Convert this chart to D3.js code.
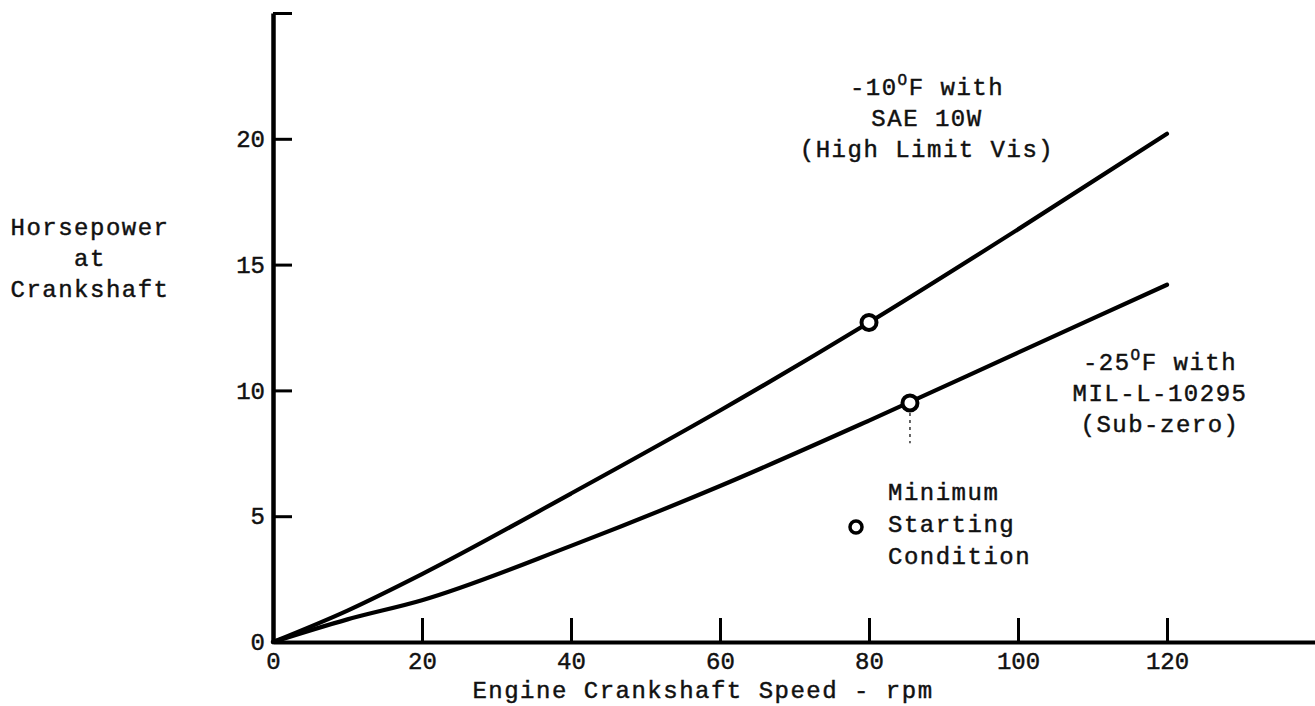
<!DOCTYPE html>
<html>
<head>
<meta charset="utf-8">
<script src="https://cdn.jsdelivr.net/npm/d3@7"></script>
<style>
  html, body { margin: 0; padding: 0; background: #fff; }
  svg { display: block; }
  text { font-family: "Liberation Mono", "DejaVu Sans Mono", monospace; fill: #111; stroke: #111; stroke-width: 0.45px; }
</style>
</head>
<body>
<svg id="chart" width="1315" height="706"></svg>
<script>
// ---- data ----
const rpm      = [0, 10, 20, 40, 60, 80, 100, 120];
const hpHigh   = [0, 1.25, 2.7, 5.9, 9.2, 12.7, 16.4, 20.2];   // -10°F with SAE 10W
const hpSub    = [0, 0.9, 1.66, 3.82, 6.2, 8.8, 11.5, 14.2];   // -25°F with MIL-L-10295
const startRpm = [80, 85.5];     // minimum starting condition points
const startHp  = [12.7, 9.5];
const dropRpm  = [85.5, 85.5];   // small dotted drop under lower point
const dropHp   = [9.1, 7.9];
const xTicks   = [0, 20, 40, 60, 80, 100, 120, 140];
const xLabels  = ["0", "20", "40", "60", "80", "100", "120", ""];
const yTicks   = [0, 5, 10, 15, 20, 25];
const yLabels  = ["0", "5", "10", "15", "20", ""];

const svg = d3.select("#chart");
const x = d3.scaleLinear().domain([0, 140]).range([273, 1316]);
const y = d3.scaleLinear().domain([0, 25]).range([642, 13]);

const FS = 24, LS = 1.5;

// x axis
const xAxis = d3.axisBottom(x).tickValues(xTicks)
  .tickFormat((d, i) => xLabels[i]).tickSize(-24).tickSizeOuter(0).tickPadding(10);
const gx = svg.append("g").attr("transform", `translate(0,${y(0)})`).call(xAxis);
gx.select(".domain").attr("stroke", "#000").attr("stroke-width", 4);
gx.selectAll(".tick line").attr("stroke", "#000").attr("stroke-width", 3);
gx.selectAll(".tick text").attr("font-size", FS).attr("font-family", "Liberation Mono").attr("fill", "#111");

// y axis
const yAxis = d3.axisLeft(y).tickValues(yTicks)
  .tickFormat((d, i) => yLabels[i]).tickSize(-19).tickSizeOuter(0).tickPadding(8);
const gy = svg.append("g").attr("transform", `translate(${x(0)},0)`).call(yAxis);
gy.select(".domain").attr("stroke", "#000").attr("stroke-width", 4.5);
gy.selectAll(".tick line").attr("stroke", "#000").attr("stroke-width", 3);
gy.selectAll(".tick text").attr("font-size", FS).attr("font-family", "Liberation Mono").attr("fill", "#111");

// curves
const line = d3.line().x(d => x(d[0])).y(d => y(d[1])).curve(d3.curveMonotoneX);
[hpHigh, hpSub].forEach(series => {
  svg.append("path")
    .datum(rpm.map((r, i) => [r, series[i]]))
    .attr("d", line)
    .attr("fill", "none").attr("stroke", "#000").attr("stroke-width", 4.2)
    .attr("stroke-linecap", "round");
});

// drop line
svg.append("path")
  .datum(dropRpm.map((r, i) => [r, dropHp[i]]))
  .attr("d", d3.line().x(d => x(d[0])).y(d => y(d[1])))
  .attr("stroke", "#333").attr("stroke-width", 1.5).attr("stroke-dasharray", "3,4").attr("fill", "none");

// start markers
svg.selectAll("circle.pt").data(startRpm.map((r, i) => [r, startHp[i]]))
  .enter().append("circle").attr("class", "pt")
  .attr("cx", d => x(d[0])).attr("cy", d => y(d[1])).attr("r", 7.5)
  .attr("fill", "#fff").attr("stroke", "#000").attr("stroke-width", 4);

// text helper
function textBlock(lines, cx, y0, dy, anchor) {
  lines.forEach((ln, i) => {
    const t = svg.append("text").attr("x", cx).attr("y", y0 + i * dy)
      .attr("text-anchor", anchor).attr("font-size", FS).attr("letter-spacing", LS);
    if (Array.isArray(ln)) {
      ln.forEach(part => {
        const s = t.append("tspan").text(part.t);
        if (part.sup) s.attr("font-size", 16).attr("dy", -10);
        if (part.after) s.attr("dy", 10);
      });
    } else t.text(ln);
  });
}

// y title
textBlock(["Horsepower", "at", "Crankshaft"], 90, 235, 31, "middle");
// x title
svg.append("text").attr("x", 703).attr("y", 698).attr("text-anchor", "middle")
  .attr("font-size", FS).attr("letter-spacing", LS).text("Engine Crankshaft Speed - rpm");

// annotations
textBlock([[{t: "-10"}, {t: "O", sup: true}, {t: "F with", after: true}], "SAE 10W", "(High Limit Vis)"],
  927, 95, 31, "middle");
textBlock([[{t: "-25"}, {t: "O", sup: true}, {t: "F with", after: true}], "MIL-L-10295", "(Sub-zero)"],
  1160, 370, 31, "middle");

// legend
svg.append("circle").attr("cx", 856).attr("cy", 527).attr("r", 6).attr("fill", "#fff")
  .attr("stroke", "#000").attr("stroke-width", 3.5);
textBlock(["Minimum", "Starting", "Condition"], 888, 500, 32, "start");
</script>
</body>
</html>
